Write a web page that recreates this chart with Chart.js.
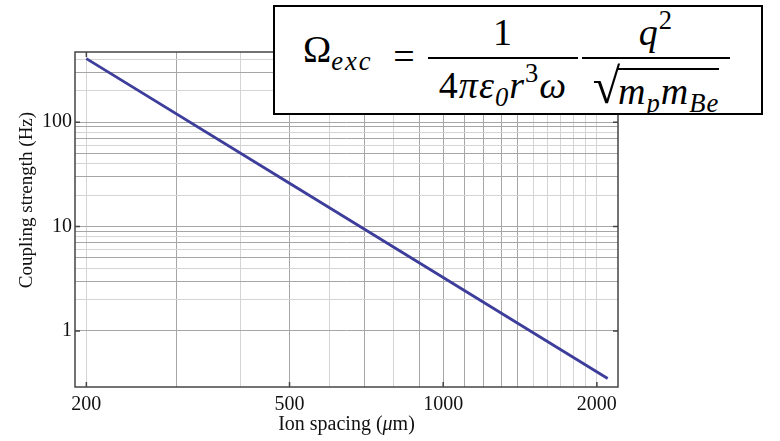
<!DOCTYPE html>
<html>
<head>
<meta charset="utf-8">
<script src="https://cdn.jsdelivr.net/npm/chart.js@4.4.1/dist/chart.umd.min.js"></script>
<style>
  body { margin: 0; background: #fff; }
  #wrap { position: relative; width: 780px; height: 441px; }
  #eq {
    position: absolute; left: 273px; top: 5px; width: 490px; height: 110px;
    box-sizing: border-box; border: 2px solid #000; background: #fff;
    display: flex; align-items: center; padding-left: 28px;
    font-family: 'Liberation Serif', serif; font-size: 38px; color: #000; line-height: 1;
    overflow: hidden;
  }
  #eq i { font-style: italic; }
  #eq sub { font-size: 0.7em; vertical-align: -0.3em; font-style: italic; line-height: 1; }
  #eq sup { font-size: 0.7em; vertical-align: 0.6em; line-height: 1; }
  .lhs { width: 77px; position: relative; top: -8px; white-space: nowrap; }
  .lhs sub { letter-spacing: 2px; }
  .op { width: 22px; margin: 0 13px; text-align: center; position: relative; top: -4px; }
  .frac { display: flex; flex-direction: column; height: 92px; }
  .f1 { width: 150px; }
  .f2 { width: 148px; margin-left: 4px; }
  .num { height: 45px; border-bottom: 2px solid #000; display: flex; align-items: flex-end; justify-content: center; padding-bottom: 6px; box-sizing: border-box; }
  .den { height: 45px; display: flex; align-items: flex-start; justify-content: center; padding-top: 1px; }
  .in { white-space: nowrap; letter-spacing: 1px; }
  .sq { display: flex; align-items: flex-start; margin-top: 2px; }
  .rt { font-size: 50px; line-height: 1; position: relative; top: -1px; margin-right: -2px; }
  .rad { border-top: 2px solid #000; padding-top: 2px; margin-top: 6px; white-space: nowrap; letter-spacing: 1px; }
</style>
</head>
<body>
<div id="wrap">
  <canvas id="chart" width="780" height="441"></canvas>
  <div id="eq">
    <span class="lhs">Ω<sub>exc</sub></span>
    <span class="op">=</span>
    <span class="frac f1"><span class="num"><span class="in">1</span></span><span class="den"><span class="in">4<i>π</i><i>ε</i><sub>0</sub><i>r</i><sup>3</sup><i>ω</i></span></span></span>
    <span class="frac f2"><span class="num"><span class="in"><i>q</i><sup>2</sup></span></span><span class="den"><span class="sq"><span class="rt">√</span><span class="rad"><i>m</i><sub>p</sub><i>m</i><sub>Be</sub></span></span></span></span>
  </div>
</div>
<script>
// ion spacing (um) vs coupling strength (Hz)
const spacing = [200, 500, 1000, 2100];
const coupling = [406, 26, 3.25, 0.35];

// grid lines and labelled ticks
const xGridValues = [200, 300, 400, 500, 600, 700, 800, 900, 1000, 1100, 1200, 1300, 1400, 1500, 1600, 1700, 1800, 1900, 2000];
const yGridValues = [1, 2, 3, 4, 5, 6, 7, 8, 9, 10, 20, 30, 40, 50, 60, 70, 80, 90, 100, 200, 300, 400];
const xLabelValues = [200, 500, 1000, 2000];
const yLabelValues = [1, 10, 100];

const serif = "'Liberation Serif', 'Times New Roman', serif";

// odd leading digit -> darker grid line
function gridColor(ctx) {
    if (!ctx.tick) return '#d4d4d4';
    let v = ctx.tick.value;
    let lead = Math.round(v / Math.pow(10, Math.floor(Math.log10(v) + 1e-9)));
    return lead % 2 === 1 ? '#a6a6a6' : '#d4d4d4';
}

const framePlugin = {
    id: 'frame',
    afterDraw(chart) {
        const c = chart.ctx;
        const a = chart.chartArea;
        const xs = chart.scales.x, ys = chart.scales.y;
        c.save();
        c.strokeStyle = '#444';
        c.lineWidth = 1.5;
        c.strokeRect(a.left, a.top, a.right - a.left, a.bottom - a.top);
        c.beginPath();
        for (let v of xLabelValues) {
            let px = xs.getPixelForValue(v);
            c.moveTo(px, a.bottom); c.lineTo(px, a.bottom - 5);
            c.moveTo(px, a.top); c.lineTo(px, a.top + 5);
        }
        for (let v of yLabelValues) {
            let py = ys.getPixelForValue(v);
            c.moveTo(a.left, py); c.lineTo(a.left + 5, py);
            c.moveTo(a.right, py); c.lineTo(a.right - 5, py);
        }
        c.stroke();
        c.fillStyle = '#111';

        // x axis title, with an italic mu
        let parts = [['Ion spacing (', ''], ['\u03BC', 'italic '], ['m)', '']];
        let widths = parts.map(p => { c.font = p[1] + '20px ' + serif; return c.measureText(p[0]).width; });
        let total = widths.reduce((s, w) => s + w, 0);
        let tx = (a.left + a.right) / 2 - total / 2;
        c.textBaseline = 'alphabetic';
        c.textAlign = 'left';
        parts.forEach((p, i) => {
            c.font = p[1] + '20px ' + serif;
            c.fillText(p[0], tx, 430);
            tx += widths[i];
        });

        // y axis title
        c.translate(27, 200);
        c.rotate(-Math.PI / 2);
        c.font = '19px ' + serif;
        c.textAlign = 'center';
        c.textBaseline = 'middle';
        c.fillText('Coupling strength (Hz)', 0, 0);
        c.restore();
    }
};

var ctx = document.getElementById('chart').getContext('2d');
var chart = new Chart(ctx, {
    type: 'line',
    data: {
        datasets: [{
            data: spacing.map((s, i) => ({ x: s, y: coupling[i] })),
            borderColor: '#3d3d9b',
            borderWidth: 2.8,
            pointRadius: 0,
            tension: 0
        }]
    },
    options: {
        responsive: false,
        animation: false,
        layout: { padding: { top: 52, right: 162, left: 0, bottom: 0 } },
        plugins: {
            legend: { display: false },
            tooltip: { enabled: false }
        },
        scales: {
            x: {
                type: 'logarithmic',
                min: 190,
                max: 2200,
                afterBuildTicks: (scale) => { scale.ticks = xGridValues.map(v => ({ value: v })); },
                afterFit: (scale) => { scale.height = 54; },
                grid: { color: gridColor, lineWidth: 1, drawTicks: false },
                border: { display: false },
                ticks: {
                    autoSkip: false,
                    maxRotation: 0,
                    padding: 6,
                    color: '#111',
                    font: { family: serif, size: 20 },
                    callback: (v) => xLabelValues.includes(v) ? String(v) : ''
                }
            },
            y: {
                type: 'logarithmic',
                min: 0.29,
                max: 470,
                afterBuildTicks: (scale) => { scale.ticks = yGridValues.map(v => ({ value: v })); },
                afterFit: (scale) => { scale.width = 75; },
                grid: { color: gridColor, lineWidth: 1, drawTicks: false },
                border: { display: false },
                ticks: {
                    autoSkip: false,
                    padding: 3,
                    color: '#111',
                    font: { family: serif, size: 20 },
                    callback: (v) => yLabelValues.includes(v) ? String(v) : ''
                }
            }
        }
    },
    plugins: [framePlugin]
});
</script>
</body>
</html>
